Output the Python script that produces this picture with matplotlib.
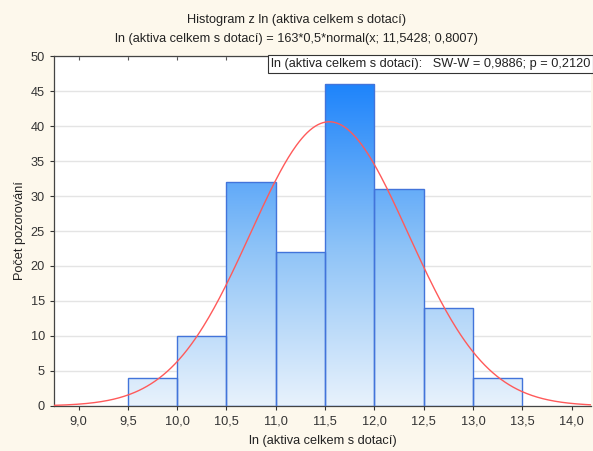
import numpy as np
import matplotlib
matplotlib.use("Agg")
import matplotlib.pyplot as plt
from matplotlib.colors import LinearSegmentedColormap

plt.rcParams['font.family'] = ['Liberation Sans', 'DejaVu Sans']

# data
bin_edges = [9.5, 10.0, 10.5, 11.0, 11.5, 12.0, 12.5, 13.0, 13.5]
counts = [4, 10, 32, 22, 46, 31, 14, 4]
n_total = 163
bin_width = 0.5
mean_fit = 11.5428
sd_fit = 0.8007
x_ticks = [9.0, 9.5, 10.0, 10.5, 11.0, 11.5, 12.0, 12.5, 13.0, 13.5, 14.0]
y_ticks = [0, 5, 10, 15, 20, 25, 30, 35, 40, 45, 50]

title = "Histogram z ln (aktiva celkem s dotací)\nln (aktiva celkem s dotací) = 163*0,5*normal(x; 11,5428; 0,8007)"
stat_text = "ln (aktiva celkem s dotací):   SW-W = 0,9886; p = 0,2120"

bg = '#fdf8ec'
fs = 9.2
fig = plt.figure(figsize=(5.93, 4.51), dpi=100, facecolor=bg)
ax = fig.add_axes([0.091, 0.0998, 0.906, 0.776])
ax.set_facecolor('white')

xmin, xmax = 8.75, 14.2
ymin, ymax = 0, 50

# gradient fill for bars (light at bottom, dark at top)
cmap = LinearSegmentedColormap.from_list('bl', ['#e8f2fc', '#8cc2f7', '#1e84fb'])
grad = np.linspace(0, 1, 256).reshape(-1, 1)
for i, c in enumerate(counts):
    left = bin_edges[i]
    bar = ax.bar(left, c, width=bin_width, align='edge', facecolor='none',
                 edgecolor='#4274da', linewidth=1.0, zorder=3)[0]
    im = ax.imshow(grad, extent=[xmin, xmax, 0, 46], origin='lower', cmap=cmap,
                   aspect='auto', zorder=2, interpolation='bilinear')
    im.set_clip_path(bar)

# normal fit curve
xs = np.linspace(xmin, xmax, 400)
ys = n_total * bin_width * np.exp(-0.5 * ((xs - mean_fit) / sd_fit) ** 2) / (sd_fit * np.sqrt(2 * np.pi))
ax.plot(xs, ys, color='#ff5a5a', linewidth=1.0, zorder=4)

ax.set_xlim(xmin, xmax)
ax.set_ylim(ymin, ymax)
ax.set_xticks(x_ticks)
ax.set_xticklabels([f"{v:.1f}".replace('.', ',') for v in x_ticks])
ax.set_yticks(y_ticks)
ax.set_yticklabels([str(v) for v in y_ticks])
ax.tick_params(axis='both', labelsize=fs, colors='#333333', length=3, width=0.8)
ax.tick_params(axis='x', pad=4)

# small inward ticks along the top edge
top = ax.secondary_xaxis('top')
top.set_xticks(x_ticks)
top.tick_params(direction='in', length=3, width=0.8, colors='#555555', labeltop=False)
top.spines['top'].set_visible(False)

ax.yaxis.grid(True, color='#e4e4e4', linewidth=1.0, zorder=0)
ax.set_axisbelow(True)
for s in ax.spines.values():
    s.set_color('#444444')
    s.set_linewidth(0.9)
ax.spines['right'].set_visible(False)

ax.set_xlabel("ln (aktiva celkem s dotací)", fontsize=fs, color='#222222', labelpad=5)
ax.set_ylabel("Počet pozorování", fontsize=fs, color='#222222')
ax.yaxis.set_label_coords(-0.052, 0.5)
fig.text(0.5, 0.935, title, ha='center', va='center', fontsize=fs, color='#222222',
         linespacing=1.75)

ax.text(0.998, 0.995, stat_text, transform=ax.transAxes, ha='right', va='top',
        fontsize=fs, color='#222222', zorder=6,
        bbox=dict(boxstyle='square,pad=0.25', facecolor='white', edgecolor='#333333', linewidth=0.8))

fig.savefig('out.png', dpi=100, facecolor=bg)
